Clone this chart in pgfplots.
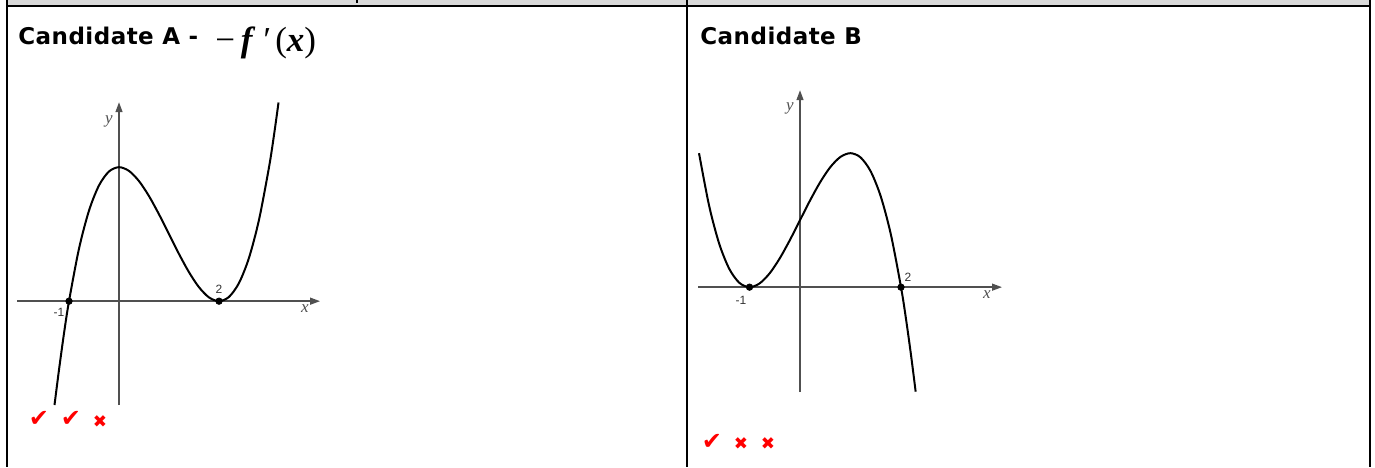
\documentclass[border=0pt]{standalone}
\usepackage{fontspec}
\usepackage{pgfplots}
\pgfplotsset{compat=1.18}
\usetikzlibrary{arrows.meta}
\setmainfont{Liberation Sans}
\newfontfamily\titlefont[LetterSpace=2]{DejaVu Sans}
\newfontfamily\mtfont{Liberation Serif}
\newfontfamily\symfont{DejaVu Sans}
\definecolor{axgray}{HTML}{505050}
\definecolor{numgray}{HTML}{333333}
\definecolor{hdrgray}{HTML}{D9D9D9}
\definecolor{markred}{HTML}{FF0000}

% curve read off candidate A
\pgfplotstableread{
x y
-1.29 -3.10
-1.2 -2.048
-1.1 -0.961
-1.0 0
-0.8 1.568
-0.6 2.704
-0.4 3.456
-0.2 3.872
0.0 4.0
0.2 3.888
0.4 3.584
0.6 3.136
0.8 2.592
1.0 2.0
1.2 1.408
1.4 0.864
1.6 0.416
1.8 0.112
2.0 0
2.2 0.128
2.4 0.544
2.6 1.296
2.8 2.432
3.0 4.0
3.1 4.961
3.19 5.93
}\curveA

% curve read off candidate B
\pgfplotstableread{
x y
-2.0 4.0
-1.8 2.432
-1.6 1.296
-1.4 0.544
-1.2 0.128
-1.0 0
-0.8 0.112
-0.6 0.416
-0.4 0.864
-0.2 1.408
0.0 2.0
0.2 2.592
0.4 3.136
0.6 3.584
0.8 3.888
1.0 4.0
1.2 3.872
1.4 3.456
1.6 2.704
1.8 1.568
2.0 0
2.1 -0.961
2.2 -2.048
2.29 -3.12
}\curveB

\pgfplotsset{sketch/.style={
  scale only axis, anchor=south west,
  axis lines=middle, enlargelimits=false, clip=false,
  xtick=\empty, ytick=\empty,
  axis line style={draw=axgray, line width=0.7pt, -{Triangle[length=5pt,width=3.5pt]}},
}}

\begin{document}
\begin{tikzpicture}[x=0.5pt,y=-0.5pt]
\path[use as bounding box] (0,0) rectangle (1375,467);
% table frame
\fill[hdrgray] (7,0) rectangle (1369,5);
\fill[black] (356,0) rectangle (358,3);
\draw[line width=1pt] (7,6) -- (1369,6);
\draw[line width=1pt] (7,0) -- (7,467);
\draw[line width=1pt] (687,0) -- (687,467);
\draw[line width=1pt] (1369.5,0) -- (1369.5,467);

% titles
\node[anchor=base west, inner sep=0pt, font=\titlefont\bfseries\fontsize{11.5}{13}\selectfont] at (18,44) {Candidate A -};
\node[anchor=base west, inner sep=0pt, font=\mtfont\fontsize{17.5}{19}\selectfont] at (215,51)
  {−\,\textbf{\textit{f}}\,\textit{′}\,(\textbf{\textit{x}})};
\node[anchor=base west, inner sep=0pt, font=\titlefont\bfseries\fontsize{11.5}{13}\selectfont] at (700,44) {Candidate B};

% candidate A
\begin{axis}[sketch, at={(8.5pt,-202.5pt)},
  width=151.5pt, height=151.4pt,
  xmin=-2.04, xmax=4.02, ymin=-3.1, ymax=5.94]
\addplot[black, line width=1pt, smooth] table {\curveA};
\addplot[only marks, mark=*, mark size=1.6pt, black] coordinates {(-1,0) (2,0)};
\end{axis}

% candidate B
\begin{axis}[sketch, at={(349pt,-196pt)},
  width=152pt, height=150.9pt,
  xmin=-2.02, xmax=4.0, ymin=-3.13, ymax=5.88]
\addplot[black, line width=1pt, smooth] table {\curveB};
\addplot[only marks, mark=*, mark size=1.6pt, black] coordinates {(-1,0) (2,0)};
\end{axis}

% axis labels
\begin{scope}[every node/.style={inner sep=0pt}]
\node[font=\mtfont\itshape\fontsize{8.5}{9}\selectfont, text=axgray] at (109,121) {y};
\node[font=\mtfont\itshape\fontsize{8.5}{9}\selectfont, text=axgray] at (305,309) {x};
\node[font=\fontsize{6}{7}\selectfont, text=numgray] at (59,312) {-1};
\node[font=\fontsize{6}{7}\selectfont, text=numgray] at (219,289) {2};
\node[font=\mtfont\itshape\fontsize{8.5}{9}\selectfont, text=axgray] at (790,108) {y};
\node[font=\mtfont\itshape\fontsize{8.5}{9}\selectfont, text=axgray] at (987,295) {x};
\node[font=\fontsize{6}{7}\selectfont, text=numgray] at (741,300) {-1};
\node[font=\fontsize{6}{7}\selectfont, text=numgray] at (908,277) {2};
% marks
\node[font=\symfont\fontsize{12}{13}\selectfont, text=markred] at (39,419) {✔};
\node[font=\symfont\fontsize{12}{13}\selectfont, text=markred] at (71,419) {✔};
\node[font=\symfont\fontsize{8.5}{9}\selectfont, text=markred] at (100,422) {✖};
\node[font=\symfont\fontsize{12}{13}\selectfont, text=markred] at (712,442) {✔};
\node[font=\symfont\fontsize{8.5}{9}\selectfont, text=markred] at (741,444) {✖};
\node[font=\symfont\fontsize{8.5}{9}\selectfont, text=markred] at (768,444) {✖};
\end{scope}
\end{tikzpicture}
\end{document}
